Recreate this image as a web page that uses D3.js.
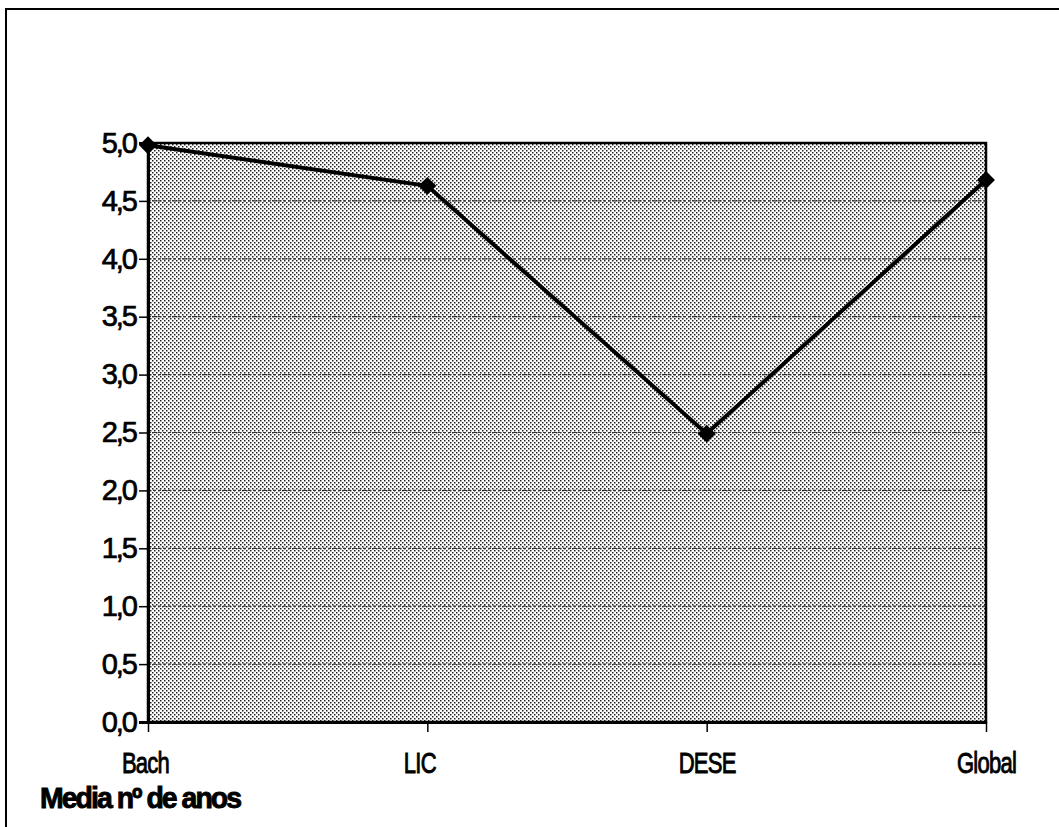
<!DOCTYPE html>
<html>
<head>
<meta charset="utf-8">
<script src="https://cdn.jsdelivr.net/npm/d3@7"></script>
<style>
  body { margin: 0; background: #fff; }
  svg { display: block; }
  .tick-lab { font-family: "Liberation Sans", Arial, sans-serif; font-size: 29px; stroke: #000; stroke-width: 0.7px; }
  .cat-lab { font-family: "Liberation Sans", Arial, sans-serif; font-size: 29px; stroke: #000; stroke-width: 0.9px; }
</style>
</head>
<body>
<svg id="chart" width="1059" height="827"></svg>
<script>
// data
var categories = ["Bach", "LIC", "DESE", "Global"];
var values = [4.98, 4.63, 2.49, 4.68];
var yTicks = [0, 0.5, 1, 1.5, 2, 2.5, 3, 3.5, 4, 4.5, 5];
var seriesName = "Media nº de anos";

var svg = d3.select("#chart"),
  plotLeft = 148, plotRight = 986, plotTop = 143, plotBottom = 722;

var x = d3.scalePoint()
  .domain(categories)
  .range([plotLeft, plotRight])
  .padding(0);

var y = d3.scaleLinear()
  .domain([0, 5])
  .range([plotBottom, plotTop]);

// outer frame
svg.append("rect")
  .attr("x", 6).attr("y", 9)
  .attr("width", 1070).attr("height", 840)
  .attr("fill", "none")
  .attr("stroke", "#000")
  .attr("stroke-width", 2);

// dotted fill
var defs = svg.append("defs");
var pat = defs.append("pattern")
  .attr("id", "dots")
  .attr("patternUnits", "userSpaceOnUse")
  .attr("width", 4).attr("height", 4);
pat.append("rect").attr("width", 4).attr("height", 4).attr("fill", "#fff");
pat.append("rect").attr("x", 0).attr("y", 0).attr("width", 1.5).attr("height", 1.5).attr("fill", "#222");
pat.append("rect").attr("x", 2).attr("y", 2).attr("width", 1.5).attr("height", 1.5).attr("fill", "#222");

svg.append("rect")
  .attr("x", plotLeft).attr("y", plotTop)
  .attr("width", plotRight - plotLeft).attr("height", plotBottom - plotTop)
  .attr("fill", "url(#dots)")
  .attr("stroke", "#000")
  .attr("stroke-width", 2.5);

// gridlines
svg.append("g")
  .selectAll("line")
  .data(yTicks.filter(function (d) { return d > 0 && d < 5; }))
  .join("line")
  .attr("x1", plotLeft).attr("x2", plotRight)
  .attr("y1", function (d) { return y(d); })
  .attr("y2", function (d) { return y(d); })
  .attr("stroke", "#333")
  .attr("stroke-width", 1.2)
  .attr("stroke-dasharray", "3,2");

// y axis
var yAxis = svg.append("g")
  .attr("transform", "translate(" + plotLeft + ",0)")
  .call(d3.axisLeft(y)
    .tickValues(yTicks)
    .tickSize(9)
    .tickPadding(3)
    .tickFormat(function (d) { return d3.format(".1f")(d).replace(".", ","); }));
yAxis.select(".domain").attr("stroke-width", 3);
yAxis.selectAll(".tick line").attr("stroke-width", 1.5);
yAxis.selectAll(".tick text")
  .attr("class", "tick-lab")
  .attr("fill", "#000")
  .attr("font-size", null)
  .attr("font-family", null)
  .attr("letter-spacing", "-2px");

// x axis
var xAxis = svg.append("g")
  .attr("transform", "translate(0," + plotBottom + ")")
  .call(d3.axisBottom(x).tickSize(10).tickSizeOuter(0).tickPadding(20));
xAxis.select(".domain").attr("stroke-width", 3);
xAxis.selectAll(".tick line").attr("stroke-width", 1.5);
xAxis.selectAll(".tick text")
  .attr("class", "cat-lab")
  .attr("fill", "#000")
  .attr("font-size", null)
  .attr("font-family", null)
  .attr("letter-spacing", "-1px")
  .attr("dy", "0.71em")
  .attr("transform", function (d, i) {
    var shift = i === 0 ? -3 : (i === 1 ? -8 : 0);
    return "translate(" + shift + ",0) scale(0.76,1)";
  });

svg.append("g")
  .attr("transform", "translate(40,808) scale(0.98,1)")
  .append("text")
  .attr("class", "cat-lab")
  .attr("font-weight", "bold")
  .style("font-size", "29px")
  .attr("letter-spacing", "-2px")
  .text(seriesName);

// series line
var line = d3.line()
  .x(function (d, i) { return x(categories[i]); })
  .y(function (d) { return y(d); });

svg.append("path")
  .datum(values)
  .attr("d", line)
  .attr("fill", "none")
  .attr("stroke", "#000")
  .attr("stroke-width", 4);

svg.append("g")
  .selectAll("path")
  .data(values)
  .join("path")
  .attr("d", d3.symbol(d3.symbolSquare, 160))
  .attr("transform", function (d, i) {
    return "translate(" + x(categories[i]) + "," + y(d) + ") rotate(45)";
  })
  .attr("fill", "#000");
</script>
</body>
</html>
